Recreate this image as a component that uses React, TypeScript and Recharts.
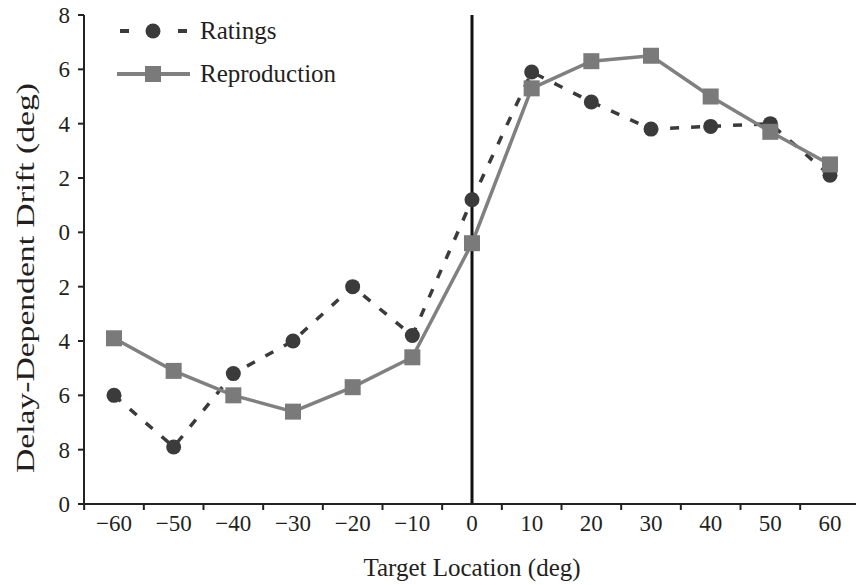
import { LineChart, Line, XAxis, YAxis, ReferenceLine, Legend } from 'recharts';

const categories = ['−60', '−50', '−40', '−30', '−20', '−10', '0', '10', '20', '30', '40', '50', '60'];
const ratings = [-6.0, -7.9, -5.2, -4.0, -2.0, -3.8, 1.2, 5.9, 4.8, 3.8, 3.9, 4.0, 2.1];
const reproduction = [-3.9, -5.1, -6.0, -6.6, -5.7, -4.6, -0.4, 5.3, 6.3, 6.5, 5.0, 3.7, 2.5];
const yTicks = [-10, -8, -6, -4, -2, 0, 2, 4, 6, 8];
const yTickLabels = ['0', '8', '6', '4', '2', '0', '2', '4', '6', '8'];

const chartData = categories.map((x, i) => ({
  x,
  ratings: ratings[i],
  reproduction: reproduction[i]
}));

const FONT = '"Liberation Serif", "DejaVu Serif", serif';
const TEXT = '#231f20';
const RATINGS_COLOR = '#3b3b3b';
const REPRO_COLOR = '#808080';
const TICK_SIZE = 6;
const TICK_MARGIN = 2;

// plot spans 84..860; categories padded half a step at each end
const PLOT_LEFT = 84;
const PLOT_RIGHT = 860;
const PAD = 30;
const HALF_STEP = (PLOT_RIGHT - PLOT_LEFT - 2 * PAD) / (categories.length - 1) / 2;

function XTick(props: any) {
  const { x, y, payload } = props;
  const axisY = y - TICK_SIZE - TICK_MARGIN;
  return (
    <g>
      <line x1={x - HALF_STEP} x2={x - HALF_STEP} y1={axisY} y2={axisY + 6} stroke="#222" strokeWidth={2} />
      <text x={x} y={y} dy={19} textAnchor="middle" fontSize={23} fill={TEXT} fontFamily={FONT}>
        {payload.value}
      </text>
    </g>
  );
}

function SquareDot(props: any) {
  const { cx, cy, index } = props;
  if (cx == null || cy == null) return null;
  return <rect key={`sq-${index}`} x={cx - 8} y={cy - 8} width={16} height={16} fill="#7a7a7a" />;
}

function LegendBox() {
  const row = { display: 'flex', alignItems: 'center', height: 43 } as const;
  const label = { fontFamily: FONT, fontSize: 25, color: TEXT, marginLeft: 10, lineHeight: '25px' };
  return (
    <div>
      <div style={row}>
        <svg width={73} height={20}>
          <line x1={3} x2={12} y1={10} y2={10} stroke={RATINGS_COLOR} strokeWidth={4} />
          <circle cx={36} cy={10} r={7.5} fill={RATINGS_COLOR} />
          <line x1={61} x2={70} y1={10} y2={10} stroke={RATINGS_COLOR} strokeWidth={4} />
        </svg>
        <span style={label}>Ratings</span>
      </div>
      <div style={row}>
        <svg width={73} height={20}>
          <line x1={0} x2={73} y1={10} y2={10} stroke={REPRO_COLOR} strokeWidth={4} />
          <rect x={28} y={2} width={16} height={16} fill="#7a7a7a" />
        </svg>
        <span style={label}>Reproduction</span>
      </div>
    </div>
  );
}

export default function App() {
  return (
    <div
      style={{
        position: 'fixed',
        left: 0,
        top: 0,
        width: 856,
        height: 585,
        overflow: 'hidden',
        background: '#fff',
        fontFamily: FONT
      }}
    >
      <LineChart
        width={PLOT_RIGHT + 20}
        height={585}
        data={chartData}
        margin={{ top: 15, right: 20, bottom: 0, left: 0 }}
      >
        <XAxis
          dataKey="x"
          type="category"
          interval={0}
          height={81}
          padding={{ left: PAD, right: PAD }}
          axisLine={{ stroke: '#222', strokeWidth: 2 }}
          tickLine={{ stroke: 'none' }}
          tickSize={TICK_SIZE}
          tickMargin={TICK_MARGIN}
          tick={<XTick />}
          label={{
            content: (p: any) => {
              const vb = p.viewBox;
              return (
                <text x={vb.x + vb.width / 2} y={576} textAnchor="middle" fontSize={25} fill={TEXT} fontFamily={FONT}>
                  Target Location (deg)
                </text>
              );
            }
          }}
        />
        <YAxis
          width={PLOT_LEFT}
          domain={[-10, 8]}
          ticks={yTicks}
          interval={0}
          tickFormatter={(v: number) => yTickLabels[yTicks.indexOf(v)]}
          axisLine={{ stroke: '#222', strokeWidth: 2 }}
          tickLine={{ stroke: '#222', strokeWidth: 2 }}
          tickSize={TICK_SIZE}
          tickMargin={8}
          tick={{ fontSize: 23, fill: TEXT, fontFamily: FONT }}
          label={{
            content: () => (
              <text
                transform="translate(34, 278) rotate(-90)"
                textAnchor="middle"
                fontSize={26}
                fill={TEXT}
                fontFamily={FONT}
                textLength={390}
                lengthAdjust="spacingAndGlyphs"
              >
                Delay-Dependent Drift (deg)
              </text>
            )
          }}
        />
        <Legend
          layout="vertical"
          align="center"
          verticalAlign="middle"
          wrapperStyle={{ top: 9, left: 117, width: 'auto' }}
          content={() => <LegendBox />}
        />
        <Line
          type="linear"
          dataKey="ratings"
          stroke={RATINGS_COLOR}
          strokeWidth={3.5}
          strokeDasharray="9 12"
          dot={{ r: 7.5, fill: RATINGS_COLOR, stroke: 'none', strokeDasharray: '' }}
          isAnimationActive={false}
        />
        <Line
          type="linear"
          dataKey="reproduction"
          stroke={REPRO_COLOR}
          strokeWidth={3.5}
          dot={<SquareDot />}
          isAnimationActive={false}
        />
        <ReferenceLine x="0" stroke="#111" strokeWidth={3} />
      </LineChart>
    </div>
  );
}
